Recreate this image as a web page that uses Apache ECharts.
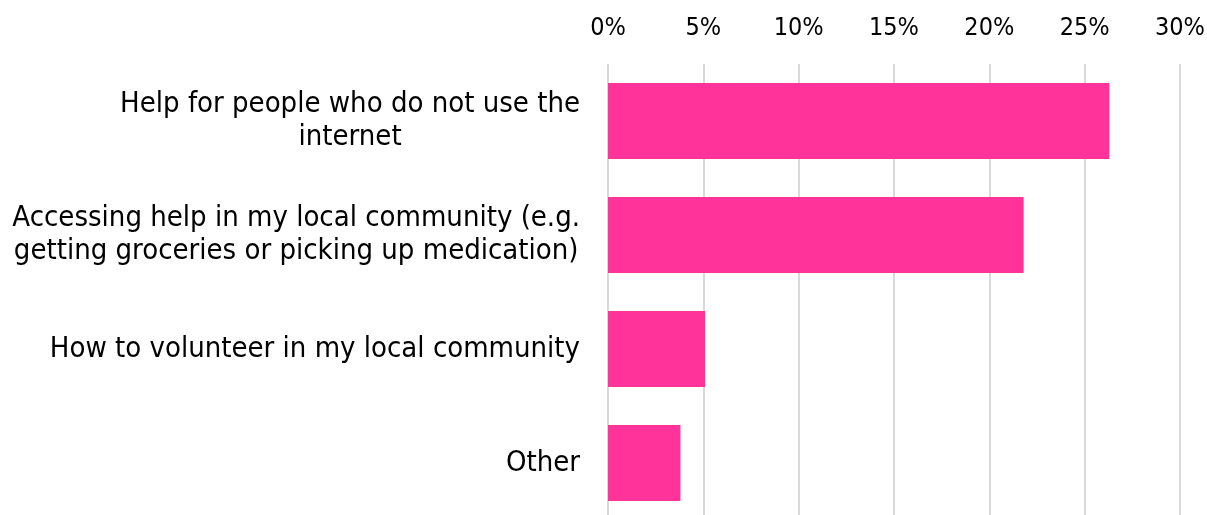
<!DOCTYPE html>
<html><head><meta charset="utf-8">
<script src="https://cdn.jsdelivr.net/npm/echarts@6/dist/echarts.min.js"></script>
<style>html,body{margin:0;padding:0;background:#fff}#c{width:1207px;height:515px}</style>
</head><body><div id="c"></div>
<script>
const categories = [
  "Help for people who do not use the\ninternet",
  "Accessing help in my local community (e.g.\ngetting groceries or picking up medication)",
  "How to volunteer in my local community",
  "Other"
];
const values = [26.3, 21.8, 5.1, 3.8];
const tickMax = 30;
const tickStep = 5;

const chart = echarts.init(document.getElementById('c'), null, {renderer: 'canvas'});
const font = 'DejaVu Sans Condensed';
chart.setOption({
  animation: false,
  grid: {left: 608, right: 27, top: 64, height: 456, containLabel: false, outerBoundsMode: 'none'},
  xAxis: {
    type: 'value', position: 'top', min: 0, max: tickMax, interval: tickStep,
    axisLine: {show: false}, axisTick: {show: false},
    splitLine: {show: true, lineStyle: {color: '#D9D9D9', width: 2}},
    axisLabel: {formatter: v => v + '%', color: '#000', fontFamily: font, fontSize: 25, margin: 23}
  },
  yAxis: {
    type: 'category', inverse: true, data: categories,
    axisLine: {show: false}, axisTick: {show: false},
    axisLabel: {
      margin: 28, color: '#000', fontFamily: font, fontSize: 29, lineHeight: 33,
      formatter: s => s.split('\n').map(l => '{c|' + l + '}').join('\n'),
      rich: {c: {align: 'center', fontFamily: font, fontSize: 29, lineHeight: 33, color: '#000'}}
    }
  },
  series: [{
    type: 'bar', data: values, barWidth: 76,
    itemStyle: {color: '#FF3399'}
  }]
});
</script></body></html>
